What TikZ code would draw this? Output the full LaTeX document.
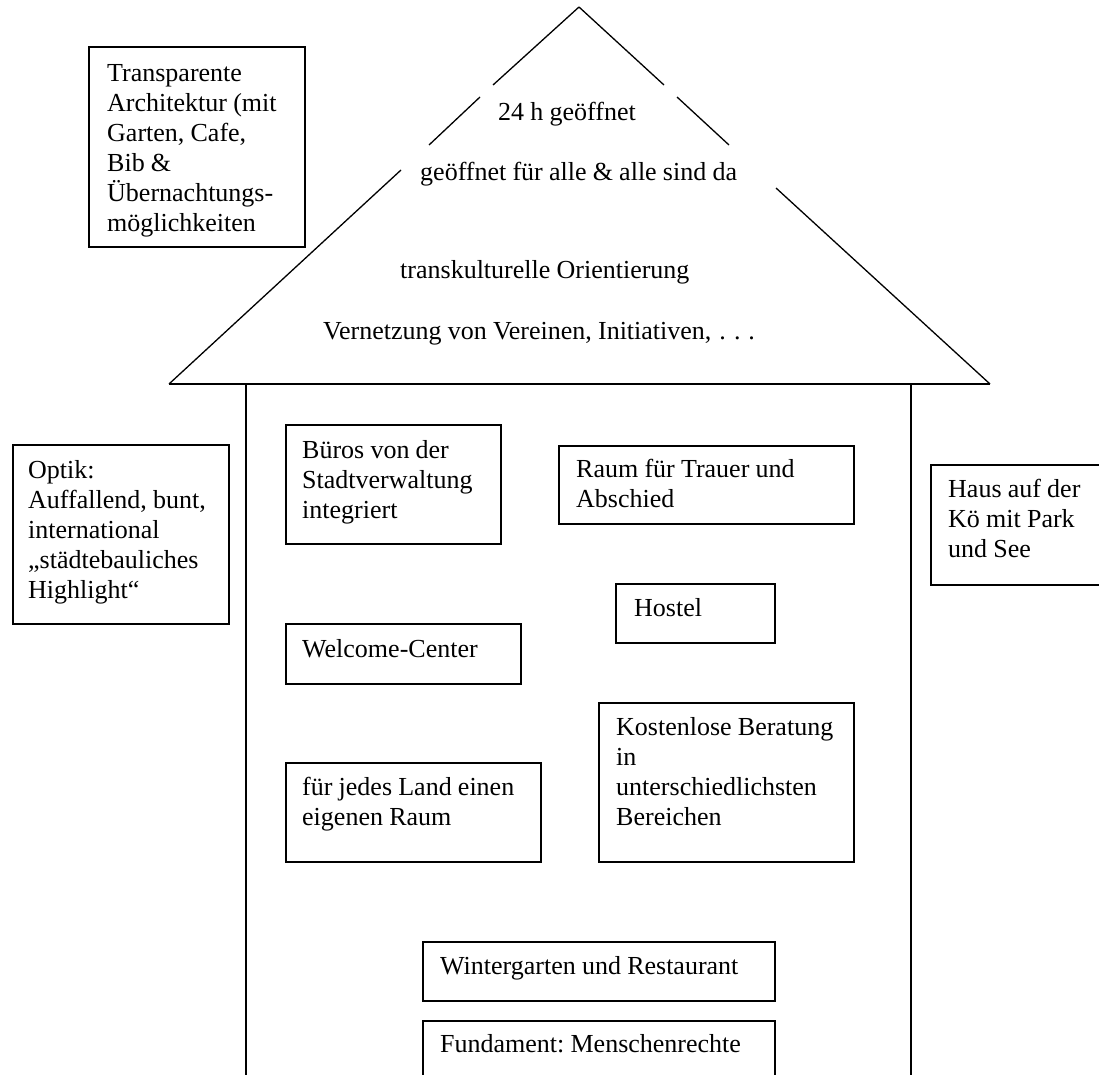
\documentclass[tikz,border=0pt]{standalone}
\usepackage{fontspec}
\setmainfont{Liberation Serif}
\frenchspacing
\begin{document}
\begin{tikzpicture}[x=1pt,y=-1pt,
  box/.style={draw, line width=1.8pt, inner sep=0pt, anchor=north west},
  txt/.style={font=\fontsize{26}{30}\selectfont, execute at begin node={\spaceskip=6.2pt\relax}, anchor=base west, align=left, inner sep=0pt, text width=600pt},
  roof/.style={line width=1.3pt},
  wall/.style={line width=2pt}]
\useasboundingbox (0,0) rectangle (1099,1074);
\clip (0,0) rectangle (1099,1074);
% roof
\coordinate (apex) at (579,7);
\coordinate (eaveL) at (169,384);
\coordinate (eaveR) at (990,384);
\draw[roof] (apex) -- (493,85);
\draw[roof] (480,97) -- (429,145);
\draw[roof] (401,170) -- (eaveL);
\draw[roof] (apex) -- (664,85);
\draw[roof] (677,97) -- (729,145);
\draw[roof] (776,188) -- (eaveR);
\draw[line width=1.6pt] (eaveL) -- (eaveR);
% walls
\draw[wall] (246,384) -- (246,1080);
\draw[wall] (911,384) -- (911,1080);
% roof texts
\node[txt] (r1) at (498,120) {24 h geöffnet};
\node[txt] (r2) at (420,180) {geöffnet für alle \& alle sind da};
\node[txt] (r3) at (400,278) {transkulturelle Orientierung};
\node[txt] (r4) at (323,339) {Vernetzung von Vereinen, Initiativen,\kern8pt.\kern8pt.\kern8pt.};
% boxes
\node[box, minimum width=216pt, minimum height=200pt] (b1) at (88,46) {};
\node[txt] (t1) at (107,81) {Transparente\\Architektur (mit\\Garten, Cafe,\\Bib \&\\Übernachtungs-\\möglichkeiten};
\node[box, minimum width=216pt, minimum height=179pt] (b2) at (12,444) {};
\node[txt] (t2) at (28,478) {Optik:\\Auffallend, bunt,\\international\\„städtebauliches\\Highlight“};
\node[box, minimum width=200pt, minimum height=120pt] (b3) at (930,464) {};
\node[txt] (t3) at (948,497) {Haus auf der\\Kö mit Park\\und See};
\node[box, minimum width=215pt, minimum height=119pt] (b4) at (285,424) {};
\node[txt] (t4) at (302,458) {Büros von der\\Stadtverwaltung\\integriert};
\node[box, minimum width=295pt, minimum height=78pt] (b5) at (558,445) {};
\node[txt] (t5) at (576,477) {Raum für Trauer und\\Abschied};
\node[box, minimum width=159pt, minimum height=59pt] (b6) at (615,583) {};
\node[txt] (t6) at (634,616) {Hostel};
\node[box, minimum width=235pt, minimum height=60pt] (b7) at (285,623) {};
\node[txt] (t7) at (302,657) {Welcome-Center};
\node[box, minimum width=255pt, minimum height=159pt] (b8) at (598,702) {};
\node[txt] (t8) at (616,735) {Kostenlose Beratung\\in\\unterschiedlichsten\\Bereichen};
\node[box, minimum width=255pt, minimum height=99pt] (b9) at (285,762) {};
\node[txt] (t9) at (302,795) {für jedes Land einen\\eigenen Raum};
\node[box, minimum width=352pt, minimum height=59pt] (b10) at (422,941) {};
\node[txt] (t10) at (440,974) {Wintergarten und Restaurant};
\node[box, minimum width=352pt, minimum height=80pt] (b11) at (422,1020) {};
\node[txt] (t11) at (440,1052) {Fundament: Menschenrechte};
\end{tikzpicture}
\end{document}
